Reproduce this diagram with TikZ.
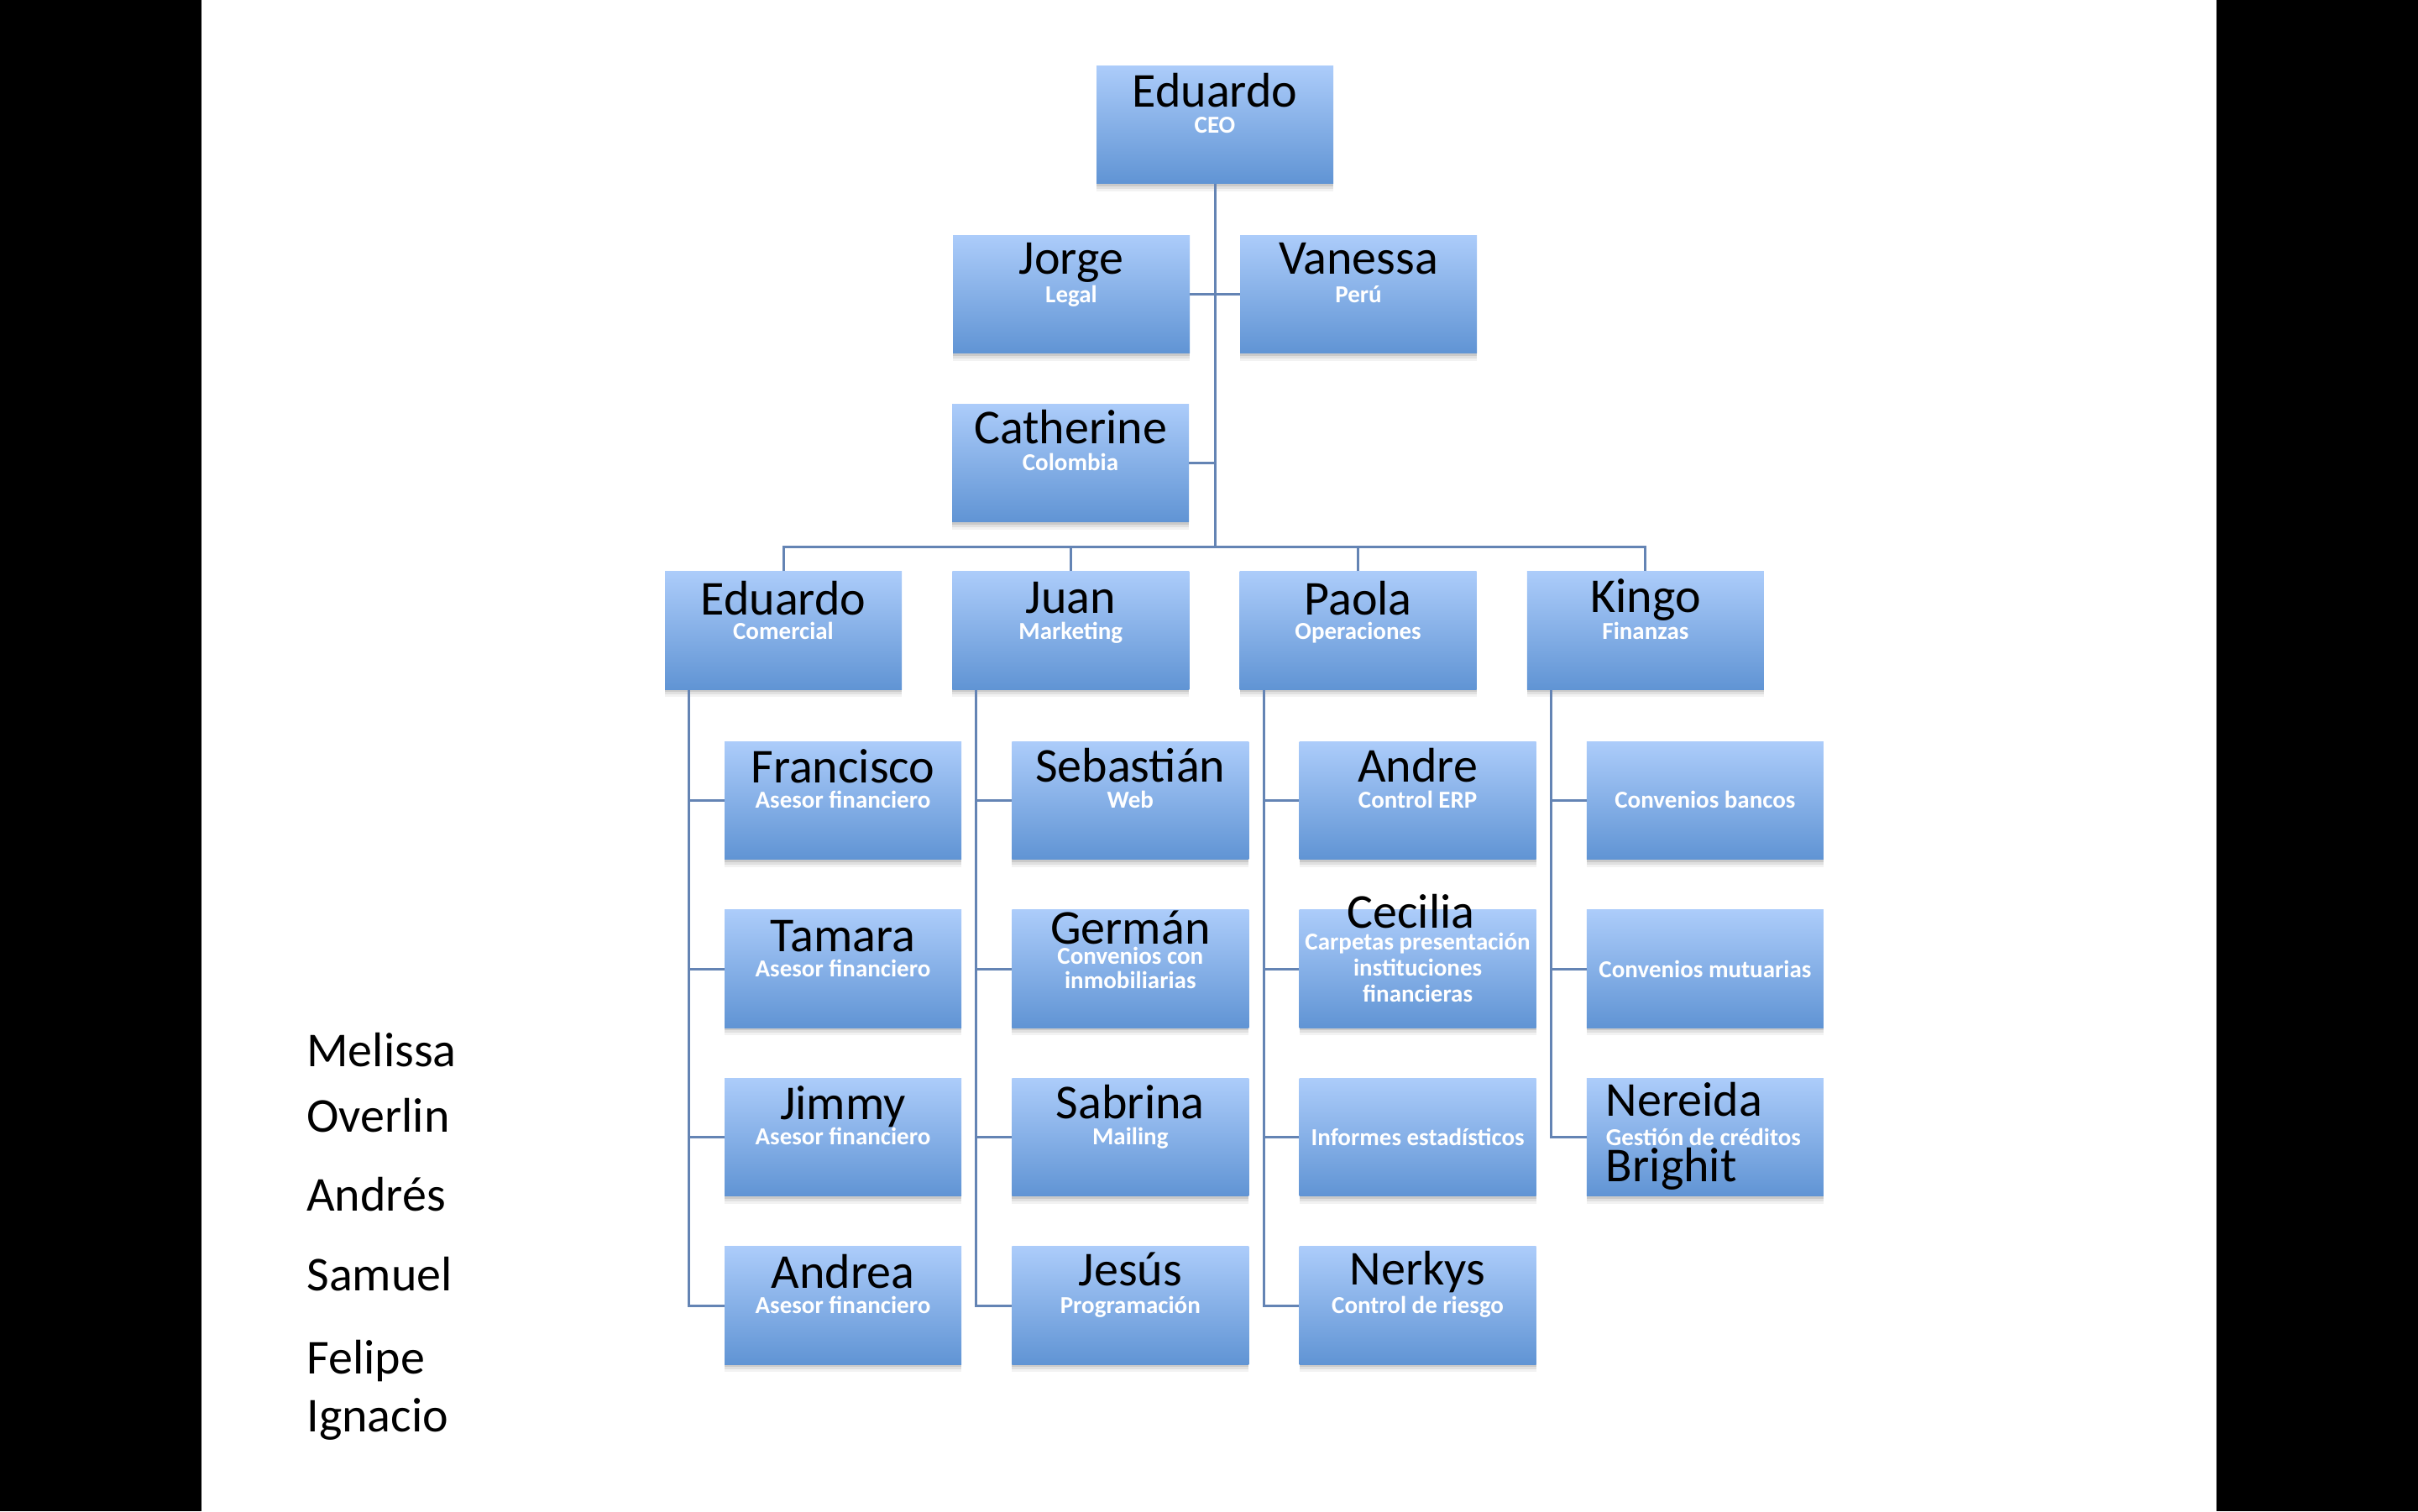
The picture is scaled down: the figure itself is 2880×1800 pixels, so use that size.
\documentclass[tikz,border=0pt]{standalone}
\usepackage{fontspec}
\setmainfont{Carlito}
\usetikzlibrary{calc}
\definecolor{boxtop}{RGB}{172,204,250}
\definecolor{boxbot}{RGB}{96,148,212}
\definecolor{connc}{RGB}{100,132,180}
\tikzset{
 box/.style={rectangle, inner sep=0pt, minimum width=141pt, minimum height=70.25pt,
   top color=boxtop, bottom color=boxbot, draw=none,
   preaction={fill=black, opacity=0.10, transform canvas={yshift=-1.5pt}},
   preaction={fill=black, opacity=0.07, transform canvas={yshift=-3pt}},
   preaction={fill=black, opacity=0.05, transform canvas={yshift=-4.5pt}}},
 nmtext/.style={anchor=base, inner sep=0pt, font=\fontsize{29}{34}\selectfont, text=black},
 subtext/.style={anchor=base, inner sep=0pt, font=\fontsize{14.5}{17}\selectfont\bfseries, text=white},
 link/.style={draw=connc, line width=1.5pt},
 side/.style={anchor=base west, inner sep=0pt, font=\fontsize{29}{34}\selectfont, text=black}
}
\newcommand\nline[4]{\node[nmtext] (#1) at ($(#2.north)+(#3)$) {#4};}
\newcommand\sline[4]{\node[subtext] (#1) at ($(#2.north)+(#3)$) {#4};}
\begin{document}
\begin{tikzpicture}[x=0.5pt,y=-0.5pt]
\useasboundingbox (0,0) rectangle (2880,1800);
\fill[white] (0,0) rectangle (2880,1800);
\fill[black] (0,0) rectangle (240,1800);
\fill[black] (2640,0) rectangle (2880,1800);

% connectors first
\coordinate (bus) at (1447,651);
% boxes
\node[box] (ceo) at (1447,148.5) {};
\node[box] (jorge) at (1276,350.5) {};
\node[box] (vanessa) at (1618,350.5) {};
\node[box] (catherine) at (1275,551.5) {};
\node[box] (ecom) at (933,751) {};
\node[box] (juan) at (1275.3,751) {};
\node[box] (paola) at (1617.6,751) {};
\node[box] (kingo) at (1959.9,751) {};
% level 3
\node[box] (francisco) at (1004,953.5) {};
\node[box] (tamara) at (1004,1154) {};
\node[box] (jimmy) at (1004,1354.5) {};
\node[box] (andrea) at (1004,1555) {};
\node[box] (sebastian) at (1346.3,953.5) {};
\node[box] (german) at (1346.3,1154) {};
\node[box] (sabrina) at (1346.3,1354.5) {};
\node[box] (jesus) at (1346.3,1555) {};
\node[box] (andre) at (1688.6,953.5) {};
\node[box] (cecilia) at (1688.6,1154) {};
\node[box] (informes) at (1688.6,1354.5) {};
\node[box] (nerkys) at (1688.6,1555) {};
\node[box] (bancos) at (2030.9,953.5) {};
\node[box] (mutuarias) at (2030.9,1154) {};
\node[box] (nereida) at (2030.9,1354.5) {};

% connectors
\draw[link] (ceo.south) -- (bus);
\draw[link] (jorge.east) -- (vanessa.west);
\draw[link] (catherine.east) -- (catherine.east -| ceo.south);
\draw[link] (ecom.north) |- (bus) -| (kingo.north);
\draw[link] (juan.north) -- (juan.north |- bus);
\draw[link] (paola.north) -- (paola.north |- bus);

\coordinate (c1) at ($(ecom.south west)+(29,0)$);
\coordinate (c2) at ($(juan.south west)+(29,0)$);
\coordinate (c3) at ($(paola.south west)+(29,0)$);
\coordinate (c4) at ($(kingo.south west)+(29,0)$);
\draw[link] (c1) |- (andrea.west);
\draw[link] (c1 |- francisco.west) -- (francisco.west);
\draw[link] (c1 |- tamara.west) -- (tamara.west);
\draw[link] (c1 |- jimmy.west) -- (jimmy.west);
\draw[link] (c2) |- (jesus.west);
\draw[link] (c2 |- sebastian.west) -- (sebastian.west);
\draw[link] (c2 |- german.west) -- (german.west);
\draw[link] (c2 |- sabrina.west) -- (sabrina.west);
\draw[link] (c3) |- (nerkys.west);
\draw[link] (c3 |- andre.west) -- (andre.west);
\draw[link] (c3 |- cecilia.west) -- (cecilia.west);
\draw[link] (c3 |- informes.west) -- (informes.west);
\draw[link] (c4) |- (nereida.west);
\draw[link] (c4 |- bancos.west) -- (bancos.west);
\draw[link] (c4 |- mutuarias.west) -- (mutuarias.west);

% texts
\nline{ceon}{ceo}{0,50}{Eduardo}
\sline{ceos}{ceo}{0,81}{CEO}
\nline{jorgen}{jorge}{0,47}{Jorge}
\sline{jorges}{jorge}{0,81}{Legal}
\nline{vanessan}{vanessa}{0,47}{Vanessa}
\sline{vanessas}{vanessa}{0,81}{Perú}
\nline{catherinen}{catherine}{0,48}{Catherine}
\sline{catherines}{catherine}{0,80}{Colombia}
\nline{ecomn}{ecom}{0,52}{Eduardo}
\sline{ecoms}{ecom}{0,81}{Comercial}
\nline{juann}{juan}{0,50}{Juan}
\sline{juans}{juan}{0,81}{Marketing}
\nline{paolan}{paola}{0,52}{Paola}
\sline{paolas}{paola}{0,81}{Operaciones}
\nline{kingon}{kingo}{0,49}{Kingo}
\sline{kingos}{kingo}{0,81}{Finanzas}

\nline{francison}{francisco}{0,50}{Francisco}
\sline{franciscos}{francisco}{0,80}{Asesor financiero}
\nline{tamaran}{tamara}{0,50}{Tamara}
\sline{tamaras}{tamara}{0,80}{Asesor financiero}
\nline{jimmyn}{jimmy}{0,50}{Jimmy}
\sline{jimmys}{jimmy}{0,80}{Asesor financiero}
\nline{andrean}{andrea}{0,50}{Andrea}
\sline{andreas}{andrea}{0,80}{Asesor financiero}

\nline{sebastiann}{sebastian}{0,49}{Sebastián}
\sline{sebastians}{sebastian}{0,80}{Web}
\nline{germann}{german}{0,41}{Germán}
\sline{germans1}{german}{0,65}{Convenios con}
\sline{germans2}{german}{0,94}{inmobiliarias}
\nline{sabrinan}{sabrina}{0,49}{Sabrina}
\sline{sabrinas}{sabrina}{0,80}{Mailing}
\nline{jesusn}{jesus}{0,47}{Jesús}
\sline{jesuss}{jesus}{0,80}{Programación}

\nline{andren}{andre}{0,49}{Andre}
\sline{andres}{andre}{0,80}{Control ERP}
\nline{cecilian}{cecilia}{-8,22}{Cecilia}
\sline{cecilias1}{cecilia}{0,48}{Carpetas presentación}
\sline{cecilias2}{cecilia}{0,79}{instituciones}
\sline{cecilias3}{cecilia}{0,110}{financieras}
\sline{informess}{informes}{0,81}{Informes estadísticos}
\nline{nerkysn}{nerkys}{0,46}{Nerkys}
\sline{nerkyss}{nerkys}{0,80}{Control de riesgo}

\sline{bancoss}{bancos}{0,80}{Convenios bancos}
\sline{mutuariass}{mutuarias}{0,81}{Convenios mutuarias}
\node[nmtext, anchor=base west] (nereidan) at ($(nereida.north west)+(23,46)$) {Nereida};
\node[subtext, anchor=base west] (nereidas) at ($(nereida.north west)+(23,81)$) {Gestión de créditos};
\node[nmtext, anchor=base west] (brighitn) at ($(nereida.north west)+(23,124)$) {Brighit};

% side list
\node[side] (melissa) at (365,1270) {Melissa};
\node[side] (overlin) at (365,1348) {Overlin};
\node[side] (andres) at (365,1442) {Andrés};
\node[side] (samuel) at (365,1537) {Samuel};
\node[side] (felipe) at (365,1636) {Felipe};
\node[side] (ignacio) at (365,1705) {Ignacio};
\end{tikzpicture}
\end{document}
